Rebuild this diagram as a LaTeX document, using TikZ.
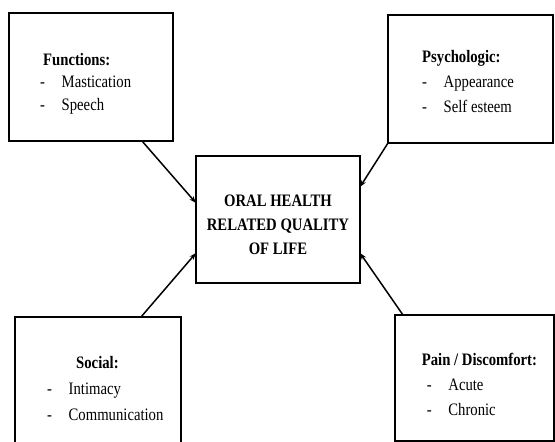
\documentclass[tikz,border=0pt]{standalone}
\usepackage{fontspec}
\setmainfont{Liberation Serif}[FakeStretch=0.84]
\usetikzlibrary{arrows.meta}

% dash followed by the item text
\newcommand{\itm}[1]{\makebox[21.5pt][l]{-}#1}

\tikzset{
  box/.style={draw, line width=1.8pt, inner sep=0, outer sep=0},
  itemtext/.style={anchor=base west, inner sep=0, align=left, font=\fontsize{17.5}{#1}\selectfont},
  link/.style={line width=1.5pt, -{Stealth[length=7pt,width=5pt]}}
}

\begin{document}
\begin{tikzpicture}[x=1pt,y=-1pt]
\useasboundingbox (0,0) rectangle (555,442);

\node [box, minimum width=164pt, minimum height=128pt] (func) at (91,77) {};
\node [box, minimum width=165pt, minimum height=128pt] (psych) at (470.5,79) {};
\node [box, minimum width=164pt, minimum height=127pt] (hrqol) at (278,219.5) {};
\node [box, minimum width=166pt, minimum height=133pt] (social) at (98,383.5) {};
\node [box, minimum width=159pt, minimum height=126pt] (pain) at (474.5,378) {};

% base anchor sits on the last line
\node [itemtext=22.5] (funcText) at (40,110) {\hspace*{3pt}\textbf{Functions:}\\ \itm{Mastication}\\ \itm{Speech}};
\node [itemtext=25] (psychText) at (422,112) {\textbf{Psychologic:}\\ \itm{Appearance}\\ \itm{Self esteem}};
\node [itemtext=26] (socialText) at (47,420) {\hspace*{29pt}\textbf{Social:}\\ \itm{Intimacy}\\ \itm{Communication}};
\node [itemtext=25] (painText) at (421.7,415) {\textbf{Pain / Discomfort:}\\ \hspace*{5pt}\itm{Acute}\\ \hspace*{5pt}\itm{Chronic}};
\node [anchor=base, inner sep=0, align=center, font=\bfseries\fontsize{17.5}{24}\selectfont] (hrqolText) at (278,254) {ORAL HEALTH\\ RELATED QUALITY\\ OF LIFE};

\draw [link] ([xshift=51pt]func.south) -- ([yshift=16.5pt]hrqol.west);
\draw [link] (psych.south west) -- ([yshift=32.5pt]hrqol.east);
\draw [link] ([xshift=43pt]social.north) -- ([yshift=-33.5pt]hrqol.west);
\draw [link] ([xshift=-71.5pt]pain.north) -- ([yshift=-33.5pt]hrqol.east);
\end{tikzpicture}
\end{document}
